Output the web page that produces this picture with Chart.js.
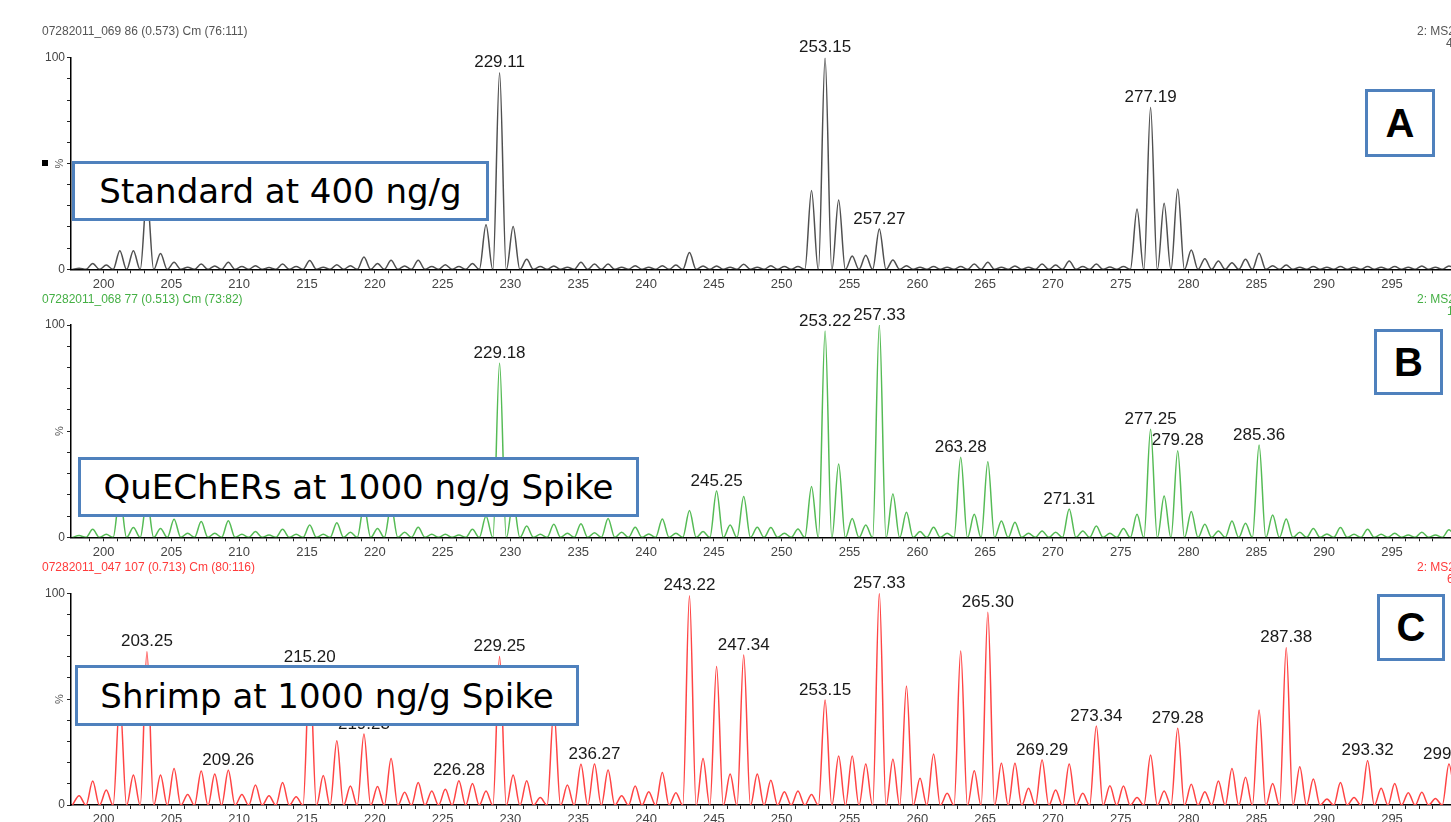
<!DOCTYPE html>
<html>
<head>
<meta charset="utf-8">
<script src="https://cdn.jsdelivr.net/npm/chart.js@4.4.1/dist/chart.umd.min.js"></script>
<style>
body { margin:0; width:1451px; height:822px; overflow:hidden; background:#fff; position:relative; font-family: Arial, 'Liberation Sans', sans-serif; }
canvas { position:absolute; left:0; }
.hdr { position:absolute; font-size:12px; line-height:12px; white-space:nowrap; }
.box { position:absolute; box-sizing:border-box; background:#fff; border:3px solid #4f81bd; display:flex; align-items:center; justify-content:center; z-index:2; color:#000; }
.title { font-family:'DejaVu Sans', Verdana, sans-serif; font-size:34px; white-space:nowrap; }
.tag { font-family: Arial, 'Liberation Sans', sans-serif; font-weight:bold; font-size:40px; }
</style>
</head>
<body>

<canvas id="specA" width="1451" height="292" style="top:0px"></canvas>
<canvas id="specB" width="1451" height="266" style="top:292px"></canvas>
<canvas id="specC" width="1451" height="264" style="top:558px"></canvas>

<div class="hdr" style="left:42px;top:25px;color:#555">07282011_069 86 (0.573) Cm (76:111)</div>
<div class="hdr" style="left:1417px;top:25px;color:#555">2: MS2 ES+</div>
<div class="hdr" style="left:1446px;top:37px;color:#555">4.33e5</div>
<div style="position:absolute;left:42px;top:160px;width:6px;height:6px;background:#000"></div>

<div class="hdr" style="left:42px;top:293px;color:#45b045">07282011_068 77 (0.513) Cm (73:82)</div>
<div class="hdr" style="left:1417px;top:293px;color:#45b045">2: MS2 ES+</div>
<div class="hdr" style="left:1447px;top:305px;color:#45b045">1.27e5</div>

<div class="hdr" style="left:42px;top:561px;color:#ff3b3b">07282011_047 107 (0.713) Cm (80:116)</div>
<div class="hdr" style="left:1417px;top:561px;color:#ff3b3b">2: MS2 ES+</div>
<div class="hdr" style="left:1447px;top:573px;color:#ff3b3b">6.02e4</div>

<div class="box" style="left:72px;top:161px;width:417px;height:60px"><span class="title">Standard at 400 ng/g</span></div>
<div class="box" style="left:78px;top:457px;width:561px;height:60px"><span class="title">QuEChERs at 1000 ng/g Spike</span></div>
<div class="box" style="left:75px;top:665px;width:504px;height:61px"><span class="title">Shrimp at 1000 ng/g Spike</span></div>

<div class="box" style="left:1365px;top:89px;width:70px;height:68px"><span class="tag">A</span></div>
<div class="box" style="left:1374px;top:329px;width:69px;height:66px"><span class="tag">B</span></div>
<div class="box" style="left:1377px;top:594px;width:68px;height:67px"><span class="tag">C</span></div>

<script>
// nominal m/z of the first value in each intensity list, one value per unit up to 299
const mzStart = 198;

// relative intensity (%) per nominal m/z, 198..299
const intensityA = [
  0.5, 2.8, 2, 8.8, 8.8, 35, 7.5, 3.3, 1, 2.5,
  1.6, 3.3, 1.3, 1.7, 0.8, 2.5, 1.3, 4.1, 1, 2.2,
  1.7, 5.8, 2.8, 4.3, 1.6, 4.3, 1.3, 2.2, 1.3, 2.8,
  21, 92.9, 20.2, 4.7, 1.3, 1.6, 1, 3.3, 2.5, 2.5,
  1, 1.7, 1, 1.7, 2, 7.9, 1.6, 1.6, 1, 2.4,
  1, 1.7, 1.3, 1.3, 37.2, 100, 32.8, 6.3, 6.6, 19,
  4.4, 1.7, 1, 1.3, 1, 1.3, 2.5, 3.3, 1, 1.6,
  1, 2.5, 2, 3.9, 1.3, 2.5, 1.1, 1.3, 28.5, 76.5,
  31.2, 38, 9.1, 5, 3.9, 3.1, 4.7, 7.6, 1.7, 2,
  1, 1.3, 1, 1.3, 1, 1.3, 1, 1.3, 1, 1.6, 1, 1.6
];
const intensityB = [
  0.8, 3.8, 1.4, 20, 4.6, 18, 4.2, 8.5, 1.9, 7.4,
  1.9, 7.8, 1.4, 2.7, 1.1, 3.8, 1.4, 5.8, 1.4, 6.9,
  2.4, 15, 4.2, 15, 2.4, 4.7, 1.4, 1.4, 1.1, 3.8,
  10, 82, 17, 5.3, 1.4, 6.1, 1.9, 6.4, 2.2, 8.9,
  2.4, 4.7, 1.6, 8.6, 1.9, 12.6, 2.7, 21.8, 5.8, 19.2,
  4.7, 4.6, 1.9, 3.9, 23.9, 97.2, 34.5, 8.9, 5.8, 100,
  20.4, 11.8, 2.7, 4.7, 1.9, 37.7, 10.8, 35.6, 7.7, 7.1,
  1.9, 3, 2.4, 13.3, 3, 5.3, 1.9, 4.2, 10.8, 50.9,
  19.5, 40.8, 12.1, 6.1, 3, 7.7, 6.6, 43.5, 10.5, 8.6,
  2.4, 4.2, 1.6, 4.6, 1.4, 3.8, 1.4, 1.9, 1.1, 2.4, 1.1, 3.5
];
const intensityC = [
  4.4, 11.3, 7.1, 50, 14.2, 72.4, 14.2, 17.3, 5, 16.1,
  14.6, 16.4, 5, 9.4, 4.4, 10.6, 3.9, 65, 13.9, 30.4,
  9, 33.5, 8.7, 22, 6, 10.6, 6.6, 7.4, 11.5, 10.2,
  6.6, 70.1, 14.2, 11.5, 3.5, 45, 9.4, 19.2, 19.4, 16.5,
  4.4, 9, 6.3, 15.4, 5.8, 98.9, 22, 65.4, 14.6, 70.9,
  14.6, 11.7, 6.3, 6.6, 5, 49.6, 23.1, 23.1, 19.4, 100,
  21.6, 56.2, 12.6, 24.1, 5.5, 72.8, 16.2, 91, 19.7, 19.7,
  7.9, 21.3, 7.1, 19.4, 5.5, 37.3, 9.1, 9, 3.5, 23.6,
  6.6, 36.2, 9.8, 6.3, 11.3, 17.3, 13.1, 44.9, 10.2, 74.3,
  18.1, 12.3, 2.8, 10.6, 3.6, 20.9, 7.9, 10.2, 5.8, 6, 3.1, 19.4
];

// annotated peaks: nominal m/z and the printed centroid
const peakMzA = [229, 253, 257, 277];
const peakTextA = ['229.11', '253.15', '257.27', '277.19'];
const peakMzB = [229, 245, 253, 257, 263, 271, 277, 279, 285];
const peakTextB = ['229.18', '245.25', '253.22', '257.33', '263.28', '271.31', '277.25', '279.28', '285.36'];
const peakMzC = [203, 209, 215, 219, 226, 229, 236, 243, 247, 253, 257, 265, 269, 273, 279, 287, 293, 299];
const peakTextC = ['203.25', '209.26', '215.20', '219.23', '226.28', '229.25', '236.27', '243.22', '247.34',
  '253.15', '257.33', '265.30', '269.29', '273.34', '279.28', '287.38', '293.32', '299.32'];

// axis tick labels
const yTickLabels = { 0: '0', 100: '100' };
const xLabelEvery = 5;

const peakShift = 0.2;   // centroids sit a little above the nominal mass
const halfBase = 0.49;

function profile(values) {
  const pts = [];
  values.forEach((h, i) => {
    const c = mzStart + i + peakShift;
    pts.push({ x: c - halfBase, y: 0 }, { x: c, y: h }, { x: c + halfBase, y: 0 });
  });
  return pts;
}

const peakLabels = {
  id: 'peakLabels',
  afterDatasetsDraw(chart, args, opts) {
    const { ctx, scales: { x, y }, chartArea } = chart;
    ctx.save();
    ctx.font = '17px Arial, "Liberation Sans", sans-serif';
    ctx.fillStyle = '#1a1a1a';
    ctx.textAlign = 'center';
    ctx.textBaseline = 'middle';
    opts.mz.forEach((m, i) => {
      const h = opts.values[m - mzStart];
      ctx.fillText(opts.text[i], x.getPixelForValue(m + peakShift), y.getPixelForValue(h) - 10);
    });
    ctx.font = '11px Arial, "Liberation Sans", sans-serif';
    ctx.fillStyle = '#555';
    ctx.translate(chartArea.left - 11, y.getPixelForValue(50));
    ctx.rotate(-Math.PI / 2);
    ctx.fillText('%', 0, 0);
    ctx.restore();
  }
};

function spectrum(id, values, mz, text, color, padTop, axisH) {
  return new Chart(document.getElementById(id), {
    type: 'line',
    data: {
      datasets: [{
        data: profile(values),
        borderColor: color,
        borderWidth: 1.5,
        pointRadius: 0,
        fill: false,
        cubicInterpolationMode: 'monotone'
      }]
    },
    options: {
      responsive: false,
      animation: false,
      layout: { padding: { top: padTop, left: 0, right: 0, bottom: 0 } },
      plugins: {
        legend: { display: false },
        tooltip: { enabled: false },
        peakLabels: { values: values, mz: mz, text: text }
      },
      scales: {
        x: {
          type: 'linear',
          min: 197.6,
          max: 299.35,
          afterFit: s => { s.height = axisH; },
          border: { color: '#000', width: 1.5 },
          grid: { drawOnChartArea: false, tickLength: 4, color: '#222' },
          ticks: {
            stepSize: 1,
            autoSkip: false,
            maxRotation: 0,
            padding: 3,
            color: '#444',
            font: { family: 'Arial, "Liberation Sans", sans-serif', size: 13 },
            callback: v => Number.isInteger(v) ? (v % xLabelEvery === 0 ? String(v) : '') : null
          }
        },
        y: {
          min: 0,
          max: 100,
          afterFit: s => { s.width = 71; },
          border: { color: '#000', width: 1.5 },
          grid: { drawOnChartArea: false, tickLength: 4, color: '#222' },
          ticks: {
            stepSize: 10,
            padding: 2,
            color: '#444',
            font: { family: 'Arial, "Liberation Sans", sans-serif', size: 12 },
            callback: v => yTickLabels[v] ?? ''
          }
        }
      }
    },
    plugins: [peakLabels]
  });
}

spectrum('specA', intensityA, peakMzA, peakTextA, '#505050', 57.7, 22.7);
spectrum('specB', intensityB, peakMzB, peakTextB, '#55bb55', 33, 20.7);
spectrum('specC', intensityC, peakMzC, peakTextC, '#ff4444', 35.3, 17);
</script>
</body>
</html>
